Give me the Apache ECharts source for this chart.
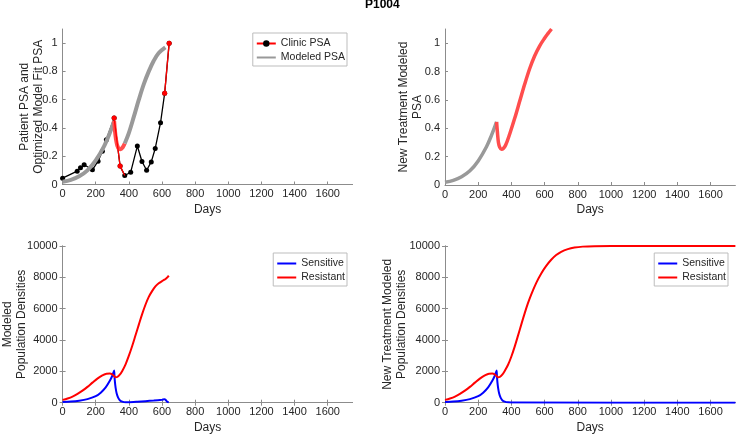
<!DOCTYPE html>
<html>
<head>
<meta charset="utf-8">
<script src="https://cdn.jsdelivr.net/npm/echarts@6/dist/echarts.min.js"></script>
<style>
  html, body { margin: 0; padding: 0; background: #fff; }
  #chart { width: 736px; height: 435px; }
</style>
</head>
<body>
<div id="chart"></div>
<script>
// tick labels
const dayTicks = [0, 200, 400, 600, 800, 1000, 1200, 1400, 1600];
const psaTicks = [0, 0.2, 0.4, 0.6, 0.8, 1];
const popTicks = [0, 2000, 4000, 6000, 8000, 10000];

// clinic PSA measurements (1 = on treatment, segment to next point drawn red)
const clinicDays = [0, 88, 108, 130, 180, 214, 240, 264, 311, 347, 375, 411, 451, 479, 507, 535, 559, 591, 616, 643];
const clinicPsa = [0.045, 0.094, 0.118, 0.14, 0.104, 0.165, 0.236, 0.317, 0.47, 0.13, 0.064, 0.087, 0.272, 0.163, 0.101, 0.16, 0.255, 0.437, 0.646, 1.0];
const clinicTreated = [0, 0, 0, 0, 0, 0, 0, 0, 1, 1, 0, 0, 0, 0, 0, 0, 0, 0, 1, 1];

// fitted model PSA
const fitOffDays1 = [0, 50, 100, 150, 200, 250, 280, 311];
const fitOffPsa1 = [0.02, 0.033, 0.058, 0.1, 0.17, 0.27, 0.35, 0.45];
const fitOnDays = [311, 316, 322, 330, 340, 350, 362, 375];
const fitOnPsa = [0.45, 0.38, 0.32, 0.275, 0.252, 0.25, 0.262, 0.29];
const fitOffDays2 = [375, 400, 430, 460, 490, 520, 550, 580, 620];
const fitOffPsa2 = [0.29, 0.365, 0.48, 0.6, 0.71, 0.8, 0.875, 0.93, 0.97];

// new treatment model PSA
const newOffDays = [0, 50, 100, 150, 200, 250, 280, 311];
const newOffPsa = [0.02, 0.033, 0.058, 0.1, 0.17, 0.27, 0.35, 0.445];
const newOnDays = [311, 316, 322, 330, 340, 350, 365, 390, 420, 450, 480, 510, 540, 570, 600, 620, 642];
const newOnPsa = [0.445, 0.37, 0.3, 0.265, 0.252, 0.255, 0.28, 0.36, 0.47, 0.59, 0.71, 0.82, 0.91, 0.98, 1.035, 1.067, 1.1];

// fitted population densities
const fitSensDays = [0, 50, 100, 150, 200, 230, 260, 285, 300, 311, 313, 316, 320, 326, 335, 345, 360, 380, 400, 450, 500, 550, 600, 615, 620, 626, 632, 641];
const fitSens = [50, 75, 130, 230, 420, 640, 980, 1400, 1720, 2050, 1700, 1300, 950, 600, 320, 160, 70, 30, 30, 60, 100, 140, 190, 215, 200, 120, 50, 20];
const fitResDays = [0, 30, 60, 90, 120, 150, 180, 210, 240, 265, 285, 300, 311, 320, 330, 345, 360, 380, 400, 420, 440, 460, 480, 500, 520, 540, 560, 580, 600, 615, 625, 635, 641];
const fitRes = [180, 270, 390, 560, 770, 1010, 1280, 1540, 1740, 1850, 1860, 1800, 1700, 1620, 1640, 1790, 2030, 2450, 3000, 3620, 4300, 4980, 5650, 6250, 6750, 7120, 7420, 7620, 7760, 7850, 7930, 8030, 8100];

// new treatment population densities
const newSensDays = [0, 50, 100, 150, 200, 230, 260, 285, 300, 311, 313, 316, 320, 326, 335, 345, 360, 380, 420, 1750];
const newSens = [50, 75, 130, 230, 420, 640, 980, 1400, 1720, 2050, 1700, 1300, 950, 600, 320, 160, 70, 25, 5, 0];
const newResDays = [0, 30, 60, 90, 120, 150, 180, 210, 240, 265, 285, 300, 311, 320, 330, 345, 360, 380, 400, 420, 440, 460, 480, 500, 520, 550, 580, 610, 640, 670, 700, 740, 780, 830, 900, 1000, 1750];
const newRes = [180, 270, 390, 560, 770, 1010, 1280, 1540, 1740, 1850, 1860, 1800, 1700, 1620, 1640, 1790, 2030, 2420, 2950, 3580, 4280, 5000, 5700, 6350, 6920, 7650, 8250, 8730, 9120, 9420, 9630, 9800, 9900, 9960, 9990, 10000, 10000];

const zip = (xs, ys) => xs.map((x, i) => [x, ys[i]]);

const FONT = 'Liberation Sans, Arial, sans-serif';
const TEXT = '#262626';
const AXIS = '#8c8c8c';
const GRAY = '#999999';
const LIGHT_RED = '#ff4d4d';

const chart = echarts.init(document.getElementById('chart'), null, { renderer: 'canvas' });

const grids = [
  { left: 62.6, top: 29, width: 290, height: 155.5, outerBoundsMode: 'none' },
  { left: 445, top: 29, width: 290.4, height: 156, outerBoundsMode: 'none' },
  { left: 62.6, top: 246, width: 290, height: 156.7, outerBoundsMode: 'none' },
  { left: 445, top: 246, width: 290.4, height: 156.7, outerBoundsMode: 'none' }
];

const numFmt = (v) => String(Math.round(v * 100) / 100);

const xAxes = [];
const yAxes = [];
const yNames = [
  'Patient PSA and\nOptimized Model Fit PSA',
  'New Treatment Modeled\nPSA',
  'Modeled\nPopulation Densities',
  'New Treatment Modeled\nPopulation Densities'
];
const yGaps = [17, 20, 34, 36];

grids.forEach((g, i) => {
  const isPop = i >= 2;
  const yTicks = isPop ? popTicks : psaTicks;
  xAxes.push({
    type: 'value', gridIndex: i, min: 0, max: 1750,
    name: 'Days', nameLocation: 'middle', nameGap: 19, nameMoveOverlap: false,
    nameTextStyle: { fontFamily: FONT, fontSize: 12, color: TEXT },
    axisLine: { lineStyle: { color: AXIS, width: 1 } },
    axisTick: { inside: true, length: 3, customValues: dayTicks, lineStyle: { color: AXIS } },
    axisLabel: { customValues: dayTicks, formatter: numFmt, fontFamily: FONT, fontSize: 11, color: TEXT, margin: 4 },
    splitLine: { show: false }
  });
  yAxes.push({
    type: 'value', gridIndex: i, min: 0, max: isPop ? 10000 : 1.1,
    name: yNames[i], nameLocation: 'middle', nameGap: yGaps[i], nameRotate: 90, nameMoveOverlap: false,
    nameTextStyle: { fontFamily: FONT, fontSize: 12, color: TEXT, lineHeight: 14 },
    axisLine: { show: true, lineStyle: { color: AXIS, width: 1 } },
    axisTick: { show: true, inside: true, length: 3, customValues: yTicks, lineStyle: { color: AXIS } },
    axisLabel: { customValues: yTicks, formatter: numFmt, fontFamily: FONT, fontSize: 11, color: TEXT, margin: 5 },
    splitLine: { show: false }
  });
  if (isPop) {
    // box lines on top and right
    xAxes.push({
      type: 'value', gridIndex: i, min: 0, max: 1750, position: 'top',
      axisLine: { lineStyle: { color: AXIS, width: 1 } },
      axisTick: { inside: true, length: 3, customValues: dayTicks, lineStyle: { color: AXIS } },
      axisLabel: { show: false }, splitLine: { show: false }
    });
    yAxes.push({
      type: 'value', gridIndex: i, min: 0, max: 10000, position: 'right',
      axisLine: { show: true, lineStyle: { color: AXIS, width: 1 } },
      axisTick: { show: true, inside: true, length: 3, customValues: popTicks, lineStyle: { color: AXIS } },
      axisLabel: { show: false }, splitLine: { show: false }
    });
  }
});

// axis index of the main x/y axis for each grid
const xIdx = [0, 1, 2, 4];
const yIdx = [0, 1, 2, 4];

const modelLine = (grid, name, xs, ys, color, width, smooth) => ({
  type: 'line', name, xAxisIndex: xIdx[grid], yAxisIndex: yIdx[grid],
  data: zip(xs, ys), symbol: 'none', smooth: smooth,
  lineStyle: { color, width, cap: 'butt' }, itemStyle: { color }, z: 3
});

const redClinic = (data) => ({
  type: 'line', name: 'Clinic PSA', xAxisIndex: 0, yAxisIndex: 0,
  data, symbol: 'circle', symbolSize: 5,
  lineStyle: { color: '#ff0000', width: 1.3 }, itemStyle: { color: '#ff0000' }, z: 4
});

const series = [];

// clinic PSA: black line and markers
series.push({
  type: 'line', name: 'Clinic PSA', xAxisIndex: 0, yAxisIndex: 0,
  data: zip(clinicDays, clinicPsa), symbol: 'circle', symbolSize: 5,
  lineStyle: { color: '#000', width: 1.3 }, itemStyle: { color: '#000' }, z: 2
});

// model fit
series.push(modelLine(0, 'Modeled PSA', fitOffDays1, fitOffPsa1, GRAY, 4, 0.35));
series.push(modelLine(0, 'Modeled PSA', fitOnDays, fitOnPsa, LIGHT_RED, 4, 0.35));
series.push(modelLine(0, 'Modeled PSA', fitOffDays2, fitOffPsa2, GRAY, 4, 0.35));

// clinic PSA red segments while on treatment
let run = [];
clinicDays.forEach((d, i) => {
  if (clinicTreated[i]) {
    run.push({ value: [d, clinicPsa[i]] });
  } else if (run.length) {
    run.push({ value: [d, clinicPsa[i]], symbol: 'none' });
    series.push(redClinic(run));
    run = [];
  }
});
if (run.length) series.push(redClinic(run));

// new treatment model PSA
series.push(modelLine(1, 'New PSA off', newOffDays, newOffPsa, GRAY, 3.5, 0.35));
series.push(modelLine(1, 'New PSA on', newOnDays, newOnPsa, LIGHT_RED, 3.5, 0.35));

// population densities
series.push(modelLine(2, 'Sensitive', fitSensDays, fitSens, '#0000ff', 2, 0.2));
series.push(modelLine(2, 'Resistant', fitResDays, fitRes, '#ff0000', 2, 0.35));
series.push(modelLine(3, 'Sensitive', newSensDays, newSens, '#0000ff', 2, 0.2));
series.push(modelLine(3, 'Resistant', newResDays, newRes, '#ff0000', 2, 0.35));

const noDot = { opacity: 0 };
const legendBase = {
  orient: 'vertical', itemWidth: 19, itemHeight: 8, itemGap: 3,
  padding: [5, 2, 3, 3], borderColor: '#bdbdbd', borderWidth: 1, borderRadius: 0,
  backgroundColor: '#fff',
  textStyle: { fontFamily: FONT, fontSize: 10.5, color: TEXT },
  selectedMode: false
};

const option = {
  animation: false,
  backgroundColor: '#fff',
  title: {
    text: 'P1004', left: 365, top: -1, padding: 0,
    textStyle: { fontFamily: FONT, fontSize: 12, fontWeight: 'bold', color: '#000' }
  },
  grid: grids,
  xAxis: xAxes,
  yAxis: yAxes,
  legend: [
    Object.assign({}, legendBase, {
      right: 389, top: 33,
      data: [
        { name: 'Clinic PSA', lineStyle: { color: '#ff0000' }, itemStyle: { color: '#000' } },
        { name: 'Modeled PSA', itemStyle: noDot }
      ]
    }),
    Object.assign({}, legendBase, {
      right: 389, top: 253,
      data: [{ name: 'Sensitive', itemStyle: noDot }, { name: 'Resistant', itemStyle: noDot }]
    }),
    Object.assign({}, legendBase, {
      right: 8, top: 253,
      data: [{ name: 'Sensitive', itemStyle: noDot }, { name: 'Resistant', itemStyle: noDot }]
    })
  ],
  series
};

chart.setOption(option);
</script>
</body>
</html>
